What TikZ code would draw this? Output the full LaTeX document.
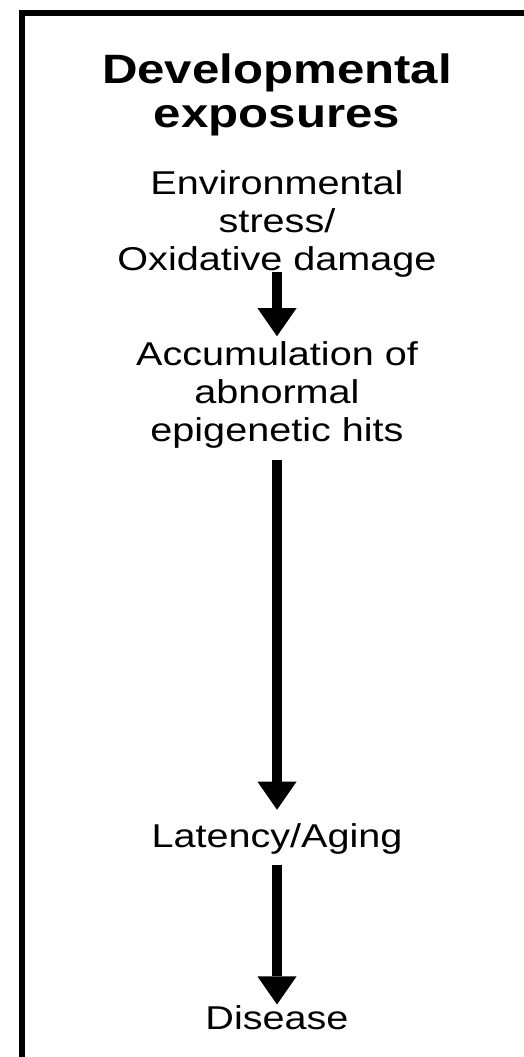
\documentclass[tikz,border=0pt]{standalone}
\usepackage{fontspec}
\setmainfont{Liberation Sans}[FakeStretch=1.2]
\usetikzlibrary{arrows.meta}

\begin{document}
\begin{tikzpicture}[x=0.5pt, y=-0.5pt,
  head/.style={align=center, inner sep=0pt, font=\fontsize{20.5}{22}\selectfont\bfseries},
  lbl/.style={align=center, inner sep=0pt, font=\fontsize{16.5}{19}\selectfont},
  arr/.style={-{Triangle[length=14pt, width=19.5pt, line width=0pt]}, line width=5pt}
]
  \useasboundingbox (0,0) rectangle (524,1057);
  \clip (0,0) rectangle (524,1057);
  % frame, cut off at right and bottom
  \draw[line width=3pt] (22,13) rectangle (545,1080);

  \node[head] (title) at (277,94.5) {Developmental\\exposures};
  \node[lbl] (env) at (277,224) {Environmental\\stress/\\Oxidative damage};
  \node[lbl] (acc) at (277,395) {Accumulation of\\abnormal\\epigenetic hits};
  \node[lbl] (lat) at (277,838.5) {Latency/Aging};
  \node[lbl] (dis) at (277,1018) {Disease};

  \draw[arr, shorten <=-3pt, shorten >=2.5pt] (env) -- (acc);
  \draw[arr, shorten <=5.5pt, shorten >=6.5pt] (acc) -- (lat);
  \draw[arr, shorten <=5.5pt, shorten >=0.5pt] (lat) -- (dis);
\end{tikzpicture}
\end{document}
